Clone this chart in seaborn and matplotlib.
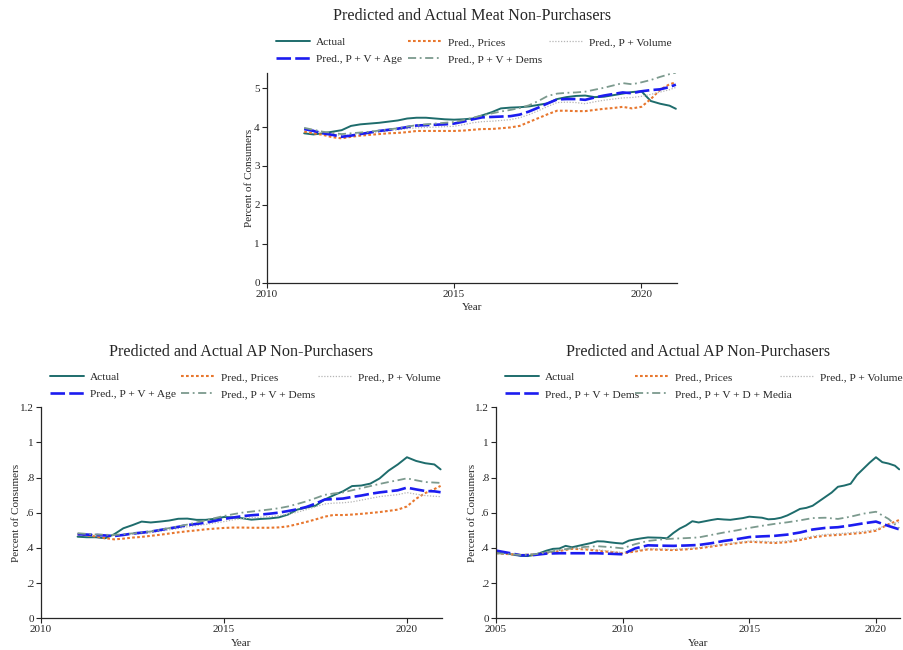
import numpy as np
import matplotlib
matplotlib.use("Agg")
import matplotlib.pyplot as plt
import seaborn as sns

# ---------------- data ----------------
# Meat non-purchasers, quarterly 2011-2020 plus last observation
meat_years = list(np.arange(2011.0, 2020.8, 0.25)) + [2020.92]
meat_actual = [3.84, 3.81, 3.84, 3.88, 3.92, 4.03, 4.07, 4.09, 4.11, 4.14, 4.17, 4.22,
               4.24, 4.24, 4.22, 4.20, 4.19, 4.20, 4.22, 4.30, 4.38, 4.48, 4.50, 4.51,
               4.53, 4.57, 4.61, 4.72, 4.77, 4.80, 4.81, 4.77, 4.78, 4.82, 4.86, 4.90,
               4.92, 4.67, 4.60, 4.55, 4.47]
meat_prices = [3.88, 3.84, 3.80, 3.74, 3.71, 3.75, 3.78, 3.80, 3.82, 3.84, 3.85, 3.87,
               3.90, 3.90, 3.90, 3.90, 3.90, 3.91, 3.93, 3.95, 3.95, 3.97, 3.99, 4.03,
               4.13, 4.23, 4.33, 4.42, 4.42, 4.41, 4.41, 4.44, 4.47, 4.49, 4.52, 4.48,
               4.52, 4.72, 4.96, 5.10, 5.15]
meat_volume = [3.97, 3.92, 3.86, 3.82, 3.78, 3.80, 3.83, 3.85, 3.88, 3.90, 3.93, 3.96,
               3.98, 3.99, 4.00, 4.01, 4.02, 4.06, 4.11, 4.14, 4.15, 4.17, 4.19, 4.24,
               4.32, 4.42, 4.53, 4.63, 4.64, 4.63, 4.60, 4.65, 4.69, 4.72, 4.75, 4.76,
               4.79, 4.84, 4.90, 4.96, 5.02]
meat_age = [3.95, 3.90, 3.84, 3.80, 3.75, 3.78, 3.82, 3.86, 3.90, 3.93, 3.96, 4.00,
            4.04, 4.05, 4.06, 4.07, 4.09, 4.14, 4.20, 4.25, 4.26, 4.27, 4.28, 4.32,
            4.40, 4.50, 4.61, 4.71, 4.72, 4.72, 4.70, 4.76, 4.81, 4.85, 4.89, 4.87,
            4.92, 4.95, 4.97, 5.03, 5.09]
meat_dems = [3.98, 3.93, 3.88, 3.85, 3.82, 3.84, 3.86, 3.88, 3.91, 3.94, 3.97, 4.01,
             4.05, 4.07, 4.09, 4.11, 4.13, 4.18, 4.24, 4.30, 4.35, 4.40, 4.44, 4.49,
             4.56, 4.67, 4.80, 4.86, 4.88, 4.89, 4.91, 4.96, 5.01, 5.07, 5.13, 5.10,
             5.15, 5.21, 5.29, 5.36, 5.40]

# AP non-purchasers, quarterly 2011-2020 plus last observation
ap_years = list(np.arange(2011.0, 2020.8, 0.25)) + [2020.92]
ap_actual = [0.464, 0.461, 0.461, 0.455, 0.478, 0.512, 0.530, 0.550, 0.545, 0.550, 0.556, 0.566,
             0.567, 0.560, 0.560, 0.566, 0.576, 0.574, 0.569, 0.561, 0.565, 0.568, 0.574, 0.590,
             0.618, 0.630, 0.640, 0.675, 0.700, 0.722, 0.752, 0.755, 0.766, 0.795, 0.840, 0.875,
             0.916, 0.895, 0.882, 0.875, 0.847]
ap_prices = [0.478, 0.472, 0.465, 0.456, 0.449, 0.453, 0.459, 0.463, 0.469, 0.475, 0.482, 0.489,
             0.495, 0.500, 0.506, 0.510, 0.514, 0.516, 0.516, 0.515, 0.515, 0.515, 0.517, 0.523,
             0.535, 0.548, 0.562, 0.578, 0.588, 0.587, 0.590, 0.594, 0.599, 0.604, 0.611, 0.618,
             0.636, 0.680, 0.712, 0.735, 0.753]
ap_volume = [0.482, 0.478, 0.475, 0.472, 0.470, 0.474, 0.478, 0.482, 0.487, 0.495, 0.503, 0.511,
             0.520, 0.527, 0.534, 0.542, 0.550, 0.560, 0.567, 0.572, 0.575, 0.578, 0.584, 0.592,
             0.603, 0.618, 0.634, 0.650, 0.655, 0.657, 0.662, 0.672, 0.682, 0.692, 0.698, 0.703,
             0.715, 0.706, 0.698, 0.694, 0.692]
ap_age = [0.478, 0.476, 0.474, 0.471, 0.468, 0.474, 0.482, 0.487, 0.493, 0.502, 0.511, 0.520,
          0.530, 0.537, 0.544, 0.554, 0.565, 0.573, 0.581, 0.586, 0.590, 0.595, 0.601, 0.610,
          0.620, 0.633, 0.652, 0.675, 0.678, 0.681, 0.690, 0.698, 0.708, 0.716, 0.722, 0.728,
          0.743, 0.733, 0.724, 0.722, 0.717]
ap_dems = [0.484, 0.480, 0.477, 0.475, 0.474, 0.478, 0.483, 0.488, 0.494, 0.503, 0.513, 0.523,
           0.533, 0.545, 0.557, 0.570, 0.582, 0.592, 0.601, 0.607, 0.613, 0.619, 0.626, 0.636,
           0.650, 0.665, 0.683, 0.702, 0.710, 0.716, 0.728, 0.740, 0.752, 0.764, 0.775, 0.785,
           0.796, 0.785, 0.775, 0.772, 0.770]

# AP non-purchasers, long sample 2005-2020
ap2_years_q = list(np.arange(2005.0, 2020.8, 0.25)) + [2020.92]
ap2_actual = [0.379, 0.374, 0.367, 0.360, 0.355, 0.354, 0.360, 0.372,
              0.385, 0.395, 0.397, 0.412, 0.404, 0.412, 0.420, 0.428,
              0.438, 0.437, 0.432, 0.428, 0.425, 0.442, 0.449, 0.455,
              0.460, 0.459, 0.458, 0.455, 0.485, 0.510, 0.528, 0.552,
              0.545, 0.552, 0.559, 0.565, 0.562, 0.560, 0.565, 0.570,
              0.578, 0.575, 0.572, 0.563, 0.565, 0.572, 0.585, 0.603,
              0.622, 0.628, 0.640, 0.665, 0.690, 0.715, 0.748, 0.755,
              0.765, 0.815, 0.850, 0.885, 0.916, 0.888, 0.880, 0.868, 0.847]
ap2_years_h = list(np.arange(2005.0, 2020.6, 0.5)) + [2020.92]
ap2_prices = [0.370, 0.365, 0.360, 0.363, 0.372, 0.383, 0.395, 0.392, 0.385, 0.377,
              0.370, 0.380, 0.392, 0.390, 0.388, 0.392, 0.398, 0.408, 0.418, 0.427,
              0.435, 0.432, 0.428, 0.433, 0.445, 0.460, 0.470, 0.474, 0.480, 0.486,
              0.498, 0.535, 0.559]
ap2_volume = [0.372, 0.367, 0.362, 0.365, 0.376, 0.388, 0.398, 0.396, 0.390, 0.382,
              0.374, 0.385, 0.396, 0.394, 0.392, 0.396, 0.402, 0.412, 0.422, 0.431,
              0.440, 0.438, 0.435, 0.440, 0.452, 0.467, 0.477, 0.481, 0.487, 0.494,
              0.505, 0.535, 0.545]
ap2_dems = [0.385, 0.372, 0.358, 0.360, 0.368, 0.370, 0.370, 0.370, 0.370, 0.367,
            0.364, 0.398, 0.415, 0.413, 0.412, 0.414, 0.417, 0.427, 0.440, 0.450,
            0.462, 0.466, 0.469, 0.476, 0.488, 0.505, 0.514, 0.518, 0.528, 0.540,
            0.550, 0.525, 0.506]
ap2_media = [0.370, 0.365, 0.360, 0.364, 0.374, 0.388, 0.398, 0.406, 0.410, 0.405,
             0.398, 0.422, 0.440, 0.448, 0.453, 0.456, 0.460, 0.474, 0.488, 0.500,
             0.514, 0.526, 0.537, 0.546, 0.557, 0.570, 0.572, 0.565, 0.578, 0.595,
             0.606, 0.565, 0.512]

# ---------------- styling ----------------
sns.set_theme(style="ticks")
plt.rcParams["font.family"] = ["Liberation Serif", "DejaVu Serif"]
plt.rcParams["axes.linewidth"] = 0.9
plt.rcParams["xtick.major.width"] = 0.8
plt.rcParams["ytick.major.width"] = 0.8
plt.rcParams["xtick.major.size"] = 3.5
plt.rcParams["ytick.major.size"] = 3.5
plt.rcParams["xtick.major.pad"] = 1.5
plt.rcParams["ytick.major.pad"] = 1.5

C_ACT = "#1e6c6c"
C_PRI = "#e8772e"
C_VOL = "#b5b5b5"
C_AGE = "#1c1cf0"
C_DEM = "#7c9a8e"

STY = {
    "act": dict(color=C_ACT, linewidth=1.4, linestyle="-"),
    "pri": dict(color=C_PRI, linewidth=1.5, linestyle=(0, (1.3, 1.1))),
    "vol": dict(color=C_VOL, linewidth=0.9, linestyle=(0, (1.0, 1.3))),
    "age": dict(color=C_AGE, linewidth=1.9, linestyle=(0, (5.5, 1.6))),
    "dem": dict(color=C_DEM, linewidth=1.3, linestyle=(0, (4.5, 2.0, 1.0, 2.0))),
}

fig = plt.figure(figsize=(9.04, 6.5), dpi=100)
W, H = 904.0, 650.0


def box(l, t, r, b):
    return [l / W, 1 - b / H, (r - l) / W, (b - t) / H]


def panel(rect, xs_list, ys_list, keys, labels, xlim, xticks, ylim, yticks, yticklabels,
          title, title_xy, leg_cols_x, leg_top, ylabel_x):
    ax = fig.add_axes(rect)
    handles = {}
    for xs, ys, k, lab in zip(xs_list, ys_list, keys, labels):
        sns.lineplot(x=xs, y=ys, ax=ax, estimator=None, legend=False, label=lab, **STY[k])
        handles[k] = ax.get_lines()[-1]
    ax.set_xlim(*xlim)
    ax.set_ylim(*ylim)
    ax.set_xticks(xticks)
    ax.set_xticklabels([str(t) for t in xticks], fontsize=8)
    ax.set_yticks(yticks)
    ax.set_yticklabels(yticklabels, fontsize=8)
    sns.despine(ax=ax)
    ax.set_xlabel("Year", fontsize=8, labelpad=0)
    ax.set_ylabel("Percent of Consumers", fontsize=8)
    ax.yaxis.set_label_coords(ylabel_x, 0.5)
    ax.xaxis.set_label_coords(0.5, -0.096)
    fig.text(title_xy[0] / W, 1 - title_xy[1] / H, title, ha="center", va="center",
             fontsize=11.6)
    # legend laid out row-wise in three columns
    columns = [[keys[0], keys[3]], [keys[1], keys[4]], [keys[2]]]
    for cx, col in zip(leg_cols_x, columns):
        hl = [handles[k] for k in col]
        ll = [handles[k].get_label() for k in col]
        fig.legend(hl, ll, ncol=1, loc="upper left",
                   bbox_to_anchor=(cx / W, 1 - leg_top / H),
                   bbox_transform=fig.transFigure, frameon=False, fontsize=8.2,
                   handlelength=3.0, handletextpad=0.5,
                   labelspacing=0.6, borderpad=0, borderaxespad=0)
    return ax


keys = ["act", "pri", "vol", "age", "dem"]

# Meat panel
panel(box(266.7, 72.6, 677, 282.7),
      [meat_years] * 5,
      [meat_actual, meat_prices, meat_volume, meat_age, meat_dems],
      keys,
      ["Actual", "Pred., Prices", "Pred., P + Volume", "Pred., P + V + Age",
       "Pred., P + V + Dems"],
      (2010, 2020.95), [2010, 2015, 2020], (0, 5.4), [0, 1, 2, 3, 4, 5],
      ["0", "1", "2", "3", "4", "5"],
      "Predicted and Actual Meat Non-Purchasers", (472, 16), (276, 408, 549), 37.5, -0.031)

ap_yticks = [0, 0.2, 0.4, 0.6, 0.8, 1.0, 1.2]
ap_ylabels = ["0", ".2", ".4", ".6", ".8", "1", "1.2"]

# AP panel, 2011 onwards
panel(box(41, 407.3, 441.7, 618.3),
      [ap_years] * 5,
      [ap_actual, ap_prices, ap_volume, ap_age, ap_dems],
      keys,
      ["Actual", "Pred., Prices", "Pred., P + Volume", "Pred., P + V + Age",
       "Pred., P + V + Dems"],
      (2010, 2020.95), [2010, 2015, 2020], (0, 1.2), ap_yticks, ap_ylabels,
      "Predicted and Actual AP Non-Purchasers", (241, 352), (50, 181, 318), 372.5, -0.0495)

# AP panel, 2005 onwards
panel(box(496, 407.3, 900, 618.3),
      [ap2_years_q, ap2_years_h, ap2_years_h, ap2_years_h, ap2_years_h],
      [ap2_actual, ap2_prices, ap2_volume, ap2_dems, ap2_media],
      keys,
      ["Actual", "Pred., Prices", "Pred., P + Volume", "Pred., P + V + Dems",
       "Pred., P + V + D + Media"],
      (2005, 2020.95), [2005, 2010, 2015, 2020], (0, 1.2), ap_yticks, ap_ylabels,
      "Predicted and Actual AP Non-Purchasers", (698, 352), (505, 635, 780), 372.5, -0.047)

fig.savefig("out.png", dpi=100)
